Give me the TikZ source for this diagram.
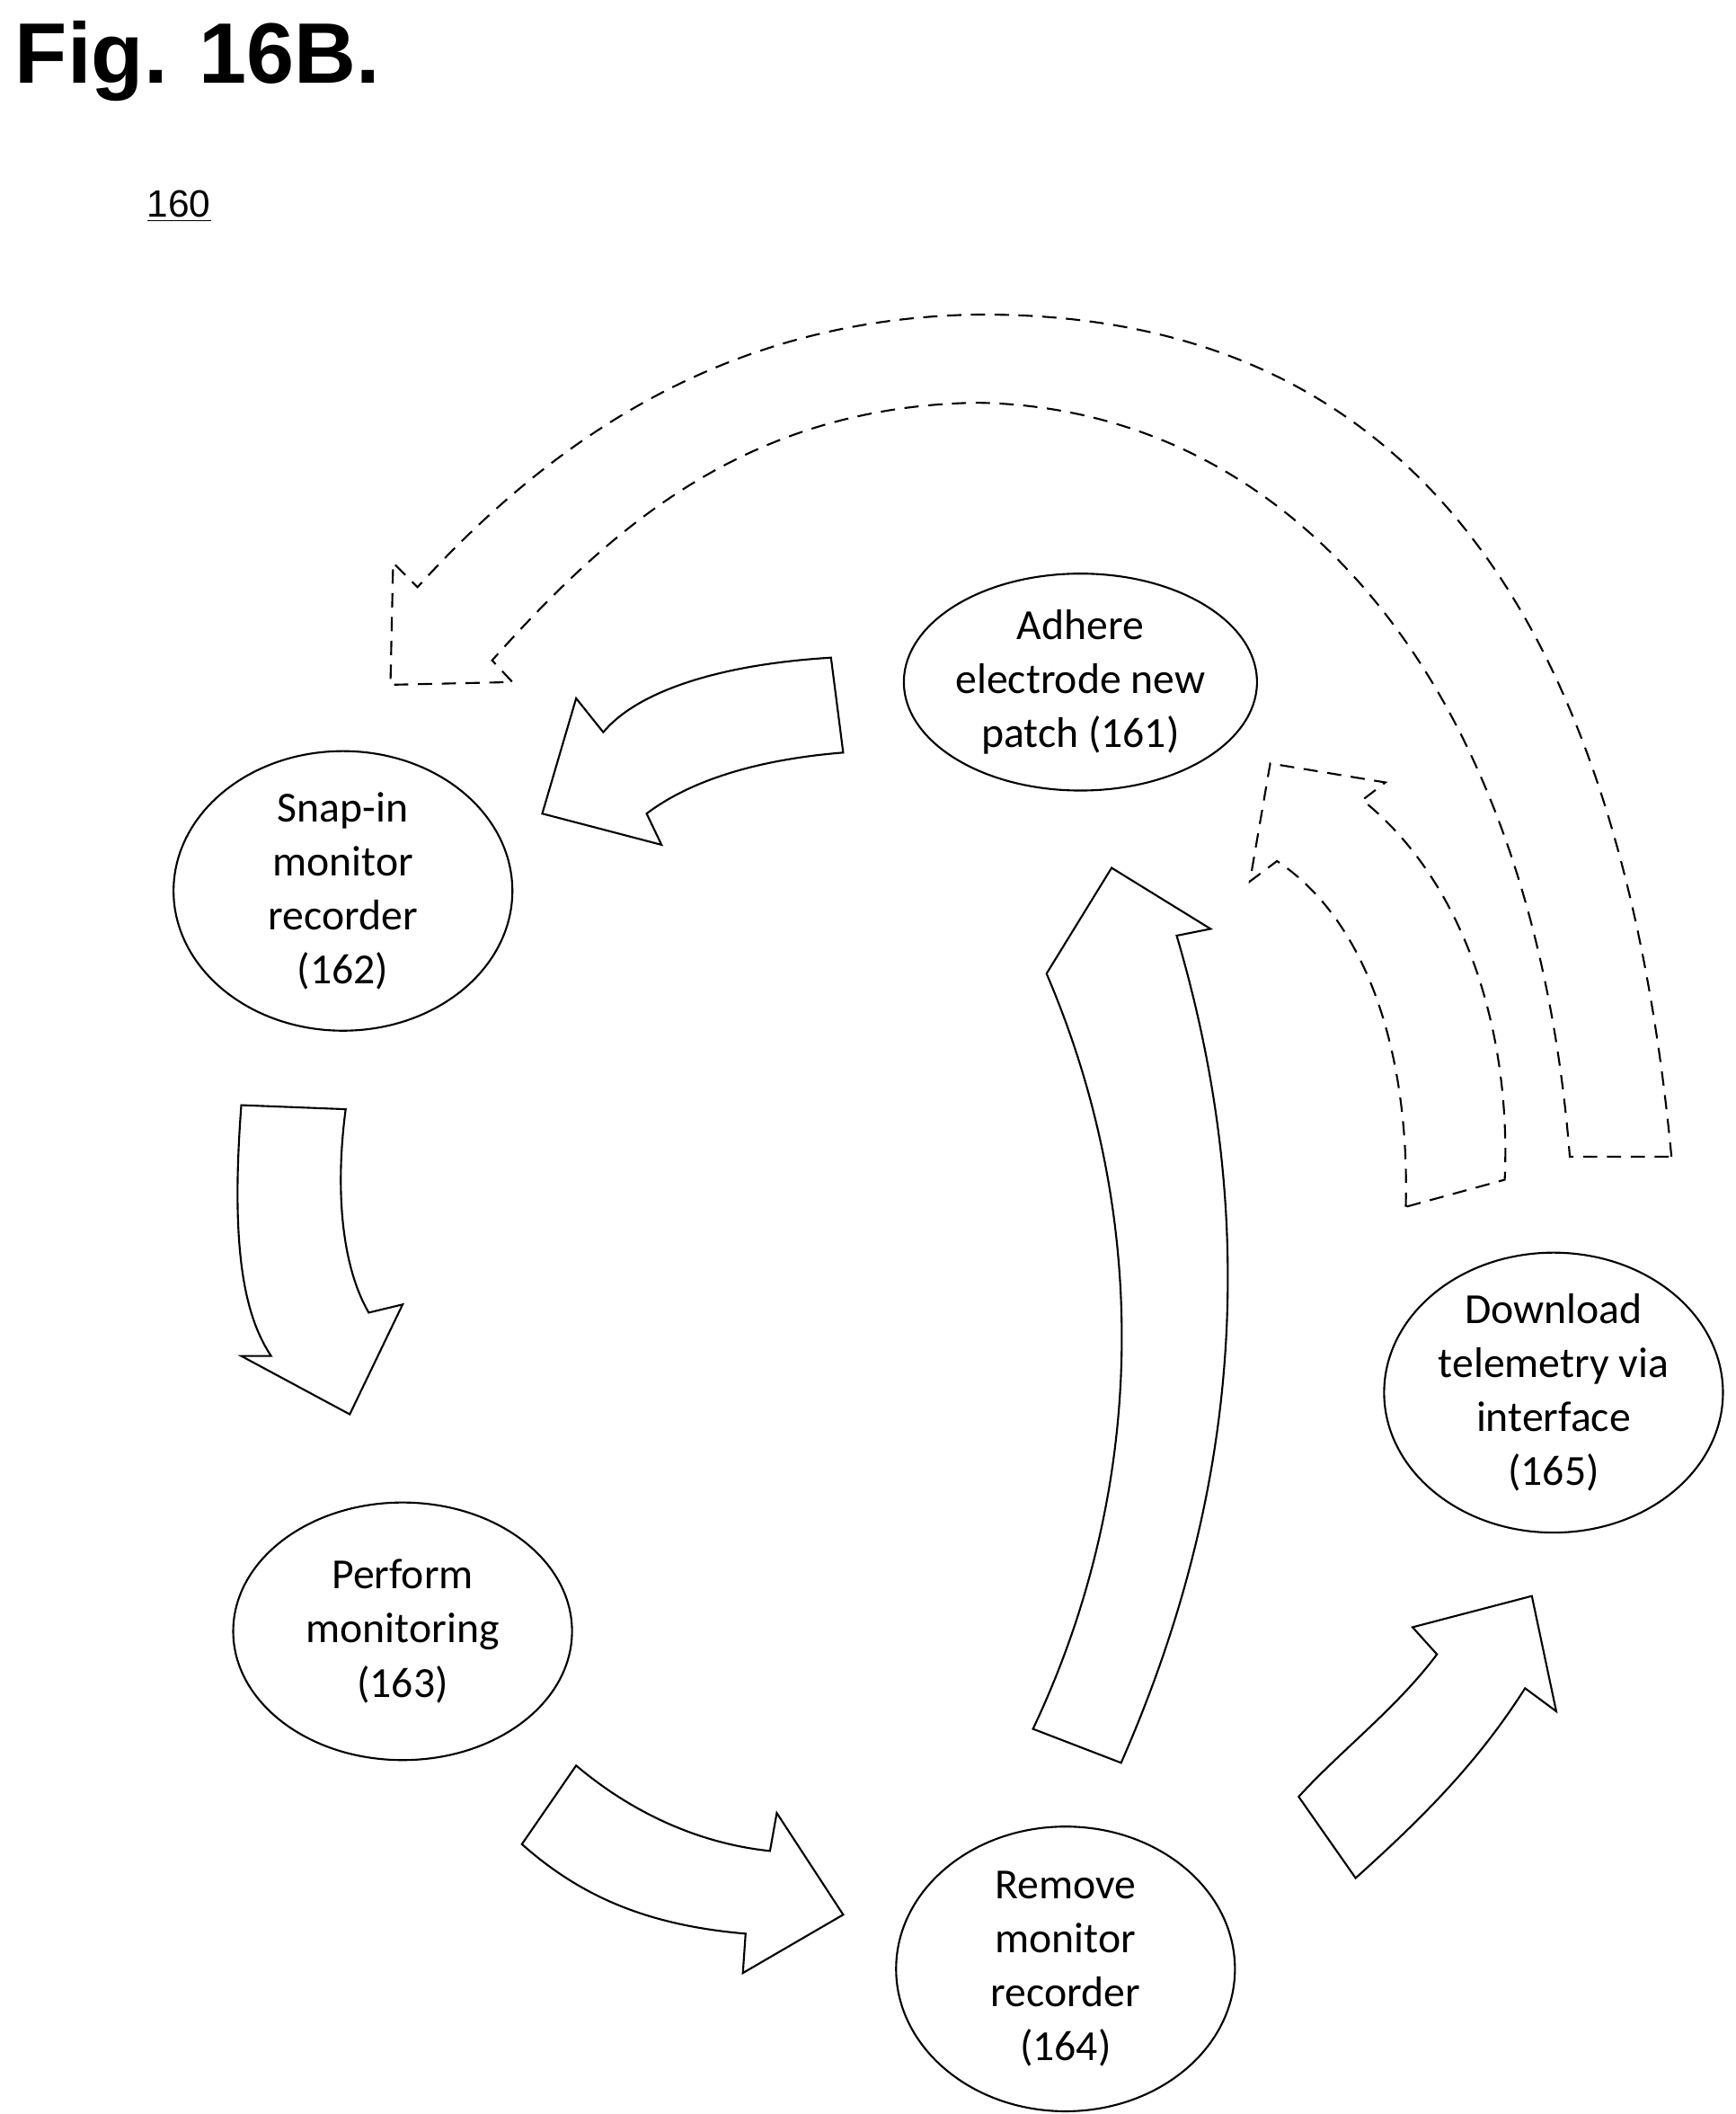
\documentclass[tikz,border=0pt]{standalone}
\usepackage{fontspec}
\setmainfont{Carlito}
\newfontfamily\titlefont{Liberation Sans}
\usetikzlibrary{shapes.geometric}

\begin{document}
\begin{tikzpicture}[
    x=0.02cm, y=-0.02cm,
    stage/.style={draw, thick, ellipse, inner sep=0pt, align=center, font=\fontsize{18}{22.7}\selectfont},
    block/.style={draw, thick, fill=white, line join=miter},
    dashblock/.style={block, dashed, dash pattern=on 6pt off 4pt}
]
    \useasboundingbox (0,0) rectangle (1280,1559);

    % Title and reference numeral
    \node[anchor=west, font=\titlefont\bfseries\fontsize{36}{40}\selectfont] (title) at (5,45) {Fig. 16B.};
    \node[font=\titlefont\fontsize{16}{18}\selectfont] (ref) at (132,152) {\underline{160}};

    % Steps
    \node[stage, minimum width=5cm, minimum height=3.2cm] (s161) at (797,503) {Adhere\\electrode new\\patch (161)};
    \node[stage, minimum width=5cm, minimum height=3.8cm] (s162) at (253,657) {Snap-in\\monitor\\recorder\\(162)};
    \node[stage, minimum width=5cm, minimum height=3.8cm] (s163) at (297,1203) {Perform\\monitoring\\(163)};
    \node[stage, minimum width=5cm, minimum height=4.2cm] (s164) at (786,1452) {Remove\\monitor\\recorder\\(164)};
    \node[stage, minimum width=5cm, minimum height=4cm] (s165) at (1146,1027) {Download\\telemetry via\\interface\\(165)};

    % Block arrows
    \draw[block] (613,485) .. controls (530,490) and (470,510) .. (445,540) -- (425,515) -- (400,600)
        -- (488,623) -- (477,600) .. controls (510,575) and (560,560) .. (622,555) -- cycle;
    \draw[block] (178,815) .. controls (170,920) and (180,970) .. (200,1000) -- (178,1000) -- (258,1043)
        -- (297,962) -- (272,968) .. controls (250,930) and (248,870) .. (255,818) -- cycle;
    \draw[block] (425,1302) .. controls (470,1340) and (520,1360) .. (568,1365) -- (573,1337) -- (622,1412)
        -- (548,1455) -- (550,1426) .. controls (480,1420) and (430,1400) .. (385,1360) -- cycle;
    \draw[block] (958,1325) .. controls (990,1290) and (1030,1260) .. (1060,1220) -- (1042,1200) -- (1130,1177)
        -- (1148,1262) -- (1125,1245) .. controls (1090,1300) and (1050,1340) .. (1000,1385) -- cycle;
    \draw[block] (762,1275) .. controls (845,1100) and (850,900) .. (772,718) -- (820,640) -- (893,685)
        -- (868,690) .. controls (930,900) and (915,1100) .. (827,1300) -- cycle;

    % Dashed block arrows
    \draw[dashblock] (1037,890) .. controls (1040,780) and (1010,680) .. (942,635) -- (922,650) -- (937,563)
        -- (1022,577) -- (1005,590) .. controls (1080,650) and (1115,760) .. (1110,870) -- cycle;
    \draw[dashblock] (1233,853) .. controls (1190,400) and (1000,230) .. (720,232)
        .. controls (550,235) and (420,310) .. (308,433) -- (290,415) -- (288,505) -- (378,503) -- (363,487)
        .. controls (450,390) and (550,300) .. (720,297) .. controls (950,300) and (1130,500) .. (1158,853) -- cycle;

\end{tikzpicture}
\end{document}
